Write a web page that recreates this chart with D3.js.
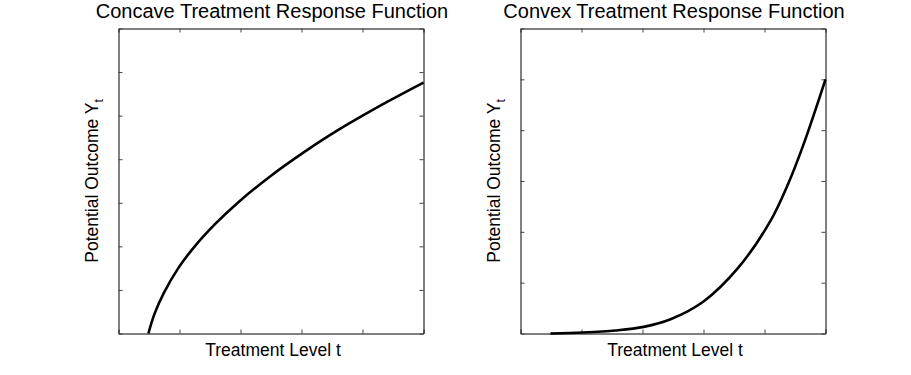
<!DOCTYPE html>
<html>
<head>
<meta charset="utf-8">
<script src="https://cdn.jsdelivr.net/npm/d3@7"></script>
<style>
  html, body { margin: 0; padding: 0; background: #fff; }
  svg { display: block; font-family: "Liberation Sans", Arial, Helvetica, sans-serif; }
</style>
</head>
<body>
<svg id="chart" width="911" height="375"></svg>
<script>
// values (t on 0..5, outcome in tick units)
const concaveT = [0.49, 0.59, 0.74, 0.98, 1.25, 1.59, 1.97, 2.49, 3.03, 3.59, 4.41, 5.0];
const concaveY = [0, 0.45, 0.92, 1.50, 2.00, 2.52, 3.02, 3.61, 4.15, 4.66, 5.32, 5.76];

const convexT = [0.49, 1.02, 1.56, 2.02, 2.46, 3.0, 3.56, 4.10, 4.39, 4.64, 5.0];
const convexY = [0, 0.02, 0.06, 0.13, 0.28, 0.63, 1.28, 2.22, 2.95, 3.72, 5.0];

const xTicks = [0, 1, 2, 3, 4, 5];
const concaveTicks = [0, 1, 2, 3, 4, 5, 6, 7];
const convexTicks = [0, 1, 2, 3, 4, 5, 6];

const titles = ["Concave Treatment Response Function", "Convex Treatment Response Function"];
const xLabel = "Treatment Level t";

const svg = d3.select("#chart");

const panels = [
	{ left: 118.5, t: concaveT, y: concaveY, yTicks: concaveTicks, title: titles[0] },
	{ left: 520.5, t: convexT, y: convexY, yTicks: convexTicks, title: titles[1] }
];
const boxTop = 28.5, boxBottom = 333.5, boxW = 305;

panels.forEach(p => {
	const x = d3.scaleLinear().domain([0, 5]).range([p.left, p.left + boxW]);
	const y = d3.scaleLinear().domain([0, p.yTicks[p.yTicks.length - 1]]).range([boxBottom, boxTop]);
	const g = svg.append("g");

	// ticks on all four sides, pointing inwards
	const tickStyle = sel => {
		sel.selectAll(".tick text").remove();
		sel.selectAll(".tick line").attr("stroke", "#444");
		sel.select(".domain").attr("stroke", "#000");
	};
	g.append("g").attr("transform", `translate(0,${boxBottom})`)
		.call(d3.axisBottom(x).tickValues(xTicks).tickSizeInner(-4).tickSizeOuter(0)).call(tickStyle);
	g.append("g").attr("transform", `translate(0,${boxTop})`)
		.call(d3.axisTop(x).tickValues(xTicks).tickSizeInner(-4).tickSizeOuter(0)).call(tickStyle);
	g.append("g").attr("transform", `translate(${p.left},0)`)
		.call(d3.axisLeft(y).tickValues(p.yTicks).tickSizeInner(-4).tickSizeOuter(0)).call(tickStyle);
	g.append("g").attr("transform", `translate(${p.left + boxW},0)`)
		.call(d3.axisRight(y).tickValues(p.yTicks).tickSizeInner(-4).tickSizeOuter(0)).call(tickStyle);

	// the response curve
	g.append("path")
		.datum(p.t.map((t, i) => [t, p.y[i]]))
		.attr("fill", "none")
		.attr("stroke", "#000")
		.attr("stroke-width", 2.6)
		.attr("stroke-linejoin", "round")
		.attr("d", d3.line().x(d => x(d[0])).y(d => y(d[1])).curve(d3.curveCatmullRom.alpha(0.5)));

	const cx = p.left + boxW / 2;
	g.append("text")
		.attr("x", cx + 1).attr("y", 18)
		.attr("text-anchor", "middle")
		.attr("font-size", 20)
		.text(p.title);

	g.append("text")
		.attr("x", cx + 2).attr("y", 356)
		.attr("text-anchor", "middle")
		.attr("font-size", 17.5)
		.text(xLabel);

	const yl = g.append("text")
		.attr("transform", `translate(${p.left - 20.5},${(boxTop + boxBottom) / 2}) rotate(-90)`)
		.attr("text-anchor", "middle")
		.attr("font-size", 17.5);
	yl.append("tspan").text("Potential Outcome Y");
	yl.append("tspan").attr("font-size", 12).attr("dy", 5).text("t");
});
</script>
</body>
</html>
